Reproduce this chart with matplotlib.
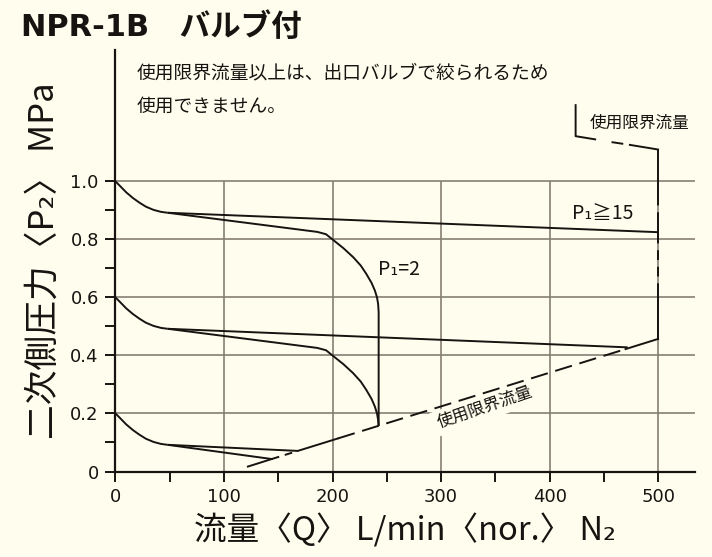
import numpy as np
import matplotlib
matplotlib.use("Agg")
import matplotlib.pyplot as plt

plt.rcParams['font.family'] = ['Noto Sans CJK JP', 'DejaVu Sans']

# readings from the chart (flow L/min, pressure MPa)
knee_top_x = [0, 4, 10, 16, 22, 28, 35, 42, 48]
knee_top_y = [1.0, 0.985, 0.962, 0.943, 0.927, 0.913, 0.902, 0.895, 0.892]
knee_mid_x = [0, 4, 10, 16, 22, 28, 35, 42, 48]
knee_mid_y = [0.6, 0.585, 0.562, 0.543, 0.527, 0.513, 0.502, 0.495, 0.492]
knee_low_x = [0, 4, 10, 16, 22, 28, 35, 42, 48]
knee_low_y = [0.2, 0.185, 0.162, 0.143, 0.127, 0.113, 0.102, 0.095, 0.092]

hi_top_x = [48, 500]
hi_top_y = [0.892, 0.825]
hi_mid_x = [48, 472]
hi_mid_y = [0.492, 0.428]
hi_low_x = [48, 168]
hi_low_y = [0.092, 0.071]

lo_top_x = [48, 186, 194, 201, 210, 219, 226, 231, 236, 239, 241, 242, 242.5, 242.5]
lo_top_y = [0.892, 0.826, 0.818, 0.797, 0.77, 0.739, 0.71, 0.682, 0.65, 0.624, 0.60, 0.578, 0.55, 0.157]
lo_mid_x = [48, 186, 194, 201, 210, 219, 226, 231, 236, 239, 241, 242, 242.5]
lo_mid_y = [0.492, 0.426, 0.418, 0.397, 0.37, 0.339, 0.31, 0.282, 0.25, 0.224, 0.20, 0.178, 0.157]
lo_low_x = [48, 144]
lo_low_y = [0.092, 0.043]

# usage limit line
limit_x = [122, 144, 168, 205, 470, 500]
limit_y = [0.017, 0.043, 0.071, 0.114, 0.422, 0.457]
# limit boundary at 500 L/min and the leader to the top label
bound_y = [0.457, 0.616, 0.80, 0.86, 0.94, 1.11]
lead_x = [500, 474, 467, 458, 442, 424, 424]
lead_y = [1.11, 1.126, 1.130, 1.135, 1.145, 1.156, 1.263]

xticks = [0, 100, 200, 300, 400, 500]
xminor = [50, 150, 250, 350, 450]
yticks = [0, 0.2, 0.4, 0.6, 0.8, 1.0]
ylabels = ['0', '0.2', '0.4', '0.6', '0.8', '1.0']
yminor = [0.1, 0.3, 0.5, 0.7, 0.9]

bg = '#fffeee'
grid_c = '#857e74'
ink = '#161310'
num_font = ['Liberation Sans Narrow', 'DejaVu Sans']

fig = plt.figure(figsize=(7.12, 5.57), dpi=100, facecolor=bg)
ax = fig.add_axes([0.1622, 0.1535, 0.8139, 0.7567], facecolor=bg)
ax.set_xlim(0, 534)
ax.set_ylim(0, 1.453)

# grid: horizontal lines across, vertical lines up to 1.0
ax.hlines(yticks[1:], 0, 534, color=grid_c, lw=1.2, zorder=1)
ax.vlines(xticks[1:], 0, 1.0, color=grid_c, lw=1.2, zorder=1)

lw = 1.4
for xs, ys in [(knee_top_x, knee_top_y), (knee_mid_x, knee_mid_y), (knee_low_x, knee_low_y),
               (hi_top_x, hi_top_y), (hi_mid_x, hi_mid_y), (hi_low_x, hi_low_y),
               (lo_top_x, lo_top_y), (lo_mid_x, lo_mid_y), (lo_low_x, lo_low_y)]:
    ax.plot(xs, ys, color=ink, lw=lw, zorder=4, solid_capstyle='butt')

# limit line: solid ends, dashed middle
ax.plot(limit_x[0:2], limit_y[0:2], color=ink, lw=lw, zorder=4)
ax.plot(limit_x[1:3], limit_y[1:3], color=ink, lw=lw, zorder=4, dashes=(4, 3))
ax.plot(limit_x[2:4], limit_y[2:4], color=ink, lw=lw, zorder=4)
ax.plot(limit_x[3:5], limit_y[3:5], color=ink, lw=lw, zorder=4, dashes=(9, 4))
ax.plot(limit_x[4:6], limit_y[4:6], color=ink, lw=lw, zorder=4)

# boundary at 500
for i in range(len(bound_y) - 1):
    style = dict(dashes=(5, 3.5)) if i % 2 == 1 else {}
    ax.plot([500, 500], bound_y[i:i + 2], color=ink, lw=lw, zorder=4, **style)
ax.plot(lead_x[0:2], lead_y[0:2], color=ink, lw=lw, zorder=4)
ax.plot(lead_x[2:4], lead_y[2:4], color=ink, lw=lw, zorder=4)
ax.plot(lead_x[4:7], lead_y[4:7], color=ink, lw=lw, zorder=4)

# axes
for s in ['top', 'right']:
    ax.spines[s].set_visible(False)
for s in ['left', 'bottom']:
    ax.spines[s].set_linewidth(1.6)
    ax.spines[s].set_color(ink)
ax.set_xticks(xticks)
ax.set_xticks(xminor, minor=True)
ax.set_yticks(yticks)
ax.set_yticks(yminor, minor=True)
ax.set_yticklabels(ylabels)
ax.tick_params(which='both', direction='out', length=7, width=1.4, color=ink,
               labelsize=13, labelcolor=ink, pad=5)
for lab in ax.get_xticklabels() + ax.get_yticklabels():
    lab.set_family(num_font)

ax.set_xlabel('流量〈Q〉 L/min〈nor.〉 N₂', fontsize=23.5, color=ink, labelpad=5)
ax.set_ylabel('二次側圧力〈P₂〉 MPa', fontsize=25, color=ink, labelpad=6)

# annotations
ax.text(421, 0.889, 'P₁≧15', fontsize=14, color=ink, va='center', ha='left', zorder=5)
ax.text(242, 0.695, 'P₁=2', fontsize=14, color=ink, va='center', ha='left', zorder=5)
ax.text(340, 0.22, '使用限界流量', fontsize=12, color=ink, rotation=19, rotation_mode='anchor',
        ha='center', va='center', zorder=3,
        bbox=dict(facecolor=bg, edgecolor='none', pad=3))
ax.text(437, 1.202, '使用限界流量', fontsize=12, color=ink, ha='left', va='center')

fig.text(137 / 712, 1 - 62 / 557, '使用限界流量以上は、出口バルブで絞られるため',
         fontsize=13.5, color=ink, ha='left', va='top')
fig.text(137 / 712, 1 - 96 / 557, '使用できません。',
         fontsize=13.5, color=ink, ha='left', va='top')
fig.text(21 / 712, 1 - 36 / 557, 'NPR-1B　バルブ付', fontsize=22, fontweight='bold',
         family=['DejaVu Sans', 'Noto Sans CJK JP'], color=ink, ha='left', va='baseline')

fig.savefig('out.png', dpi=100, facecolor=bg)
